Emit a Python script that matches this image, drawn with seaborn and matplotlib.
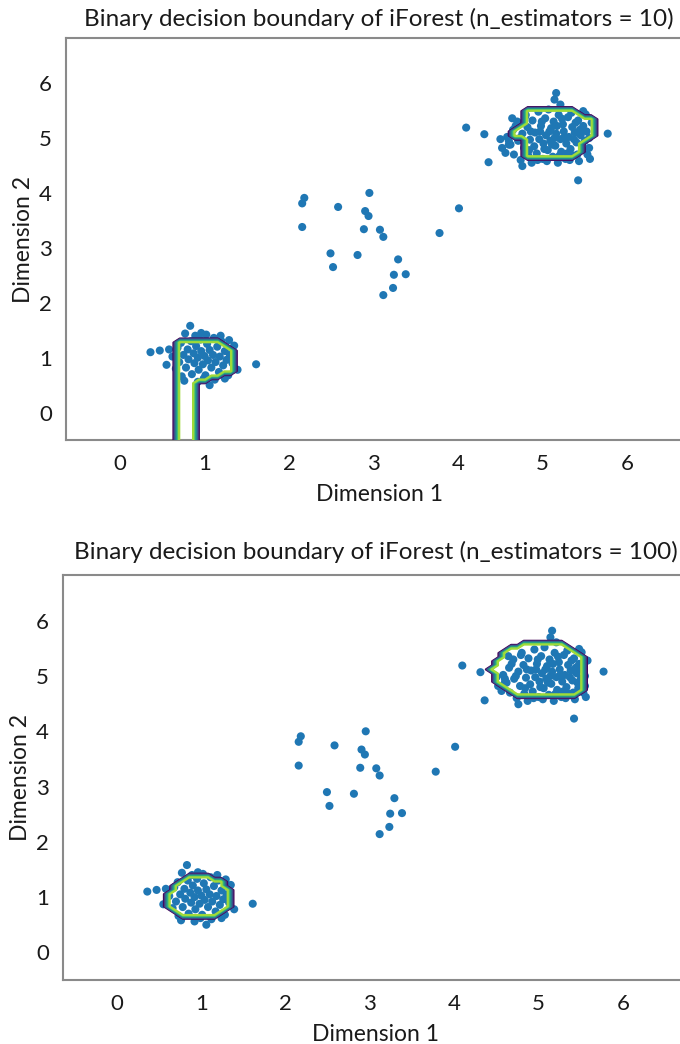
import numpy as np
import pandas as pd
import matplotlib
matplotlib.use("Agg")
import matplotlib.pyplot as plt
from matplotlib.path import Path
import seaborn as sns

# ---- data -------------------------------------------------------------
# scattered outliers between the two clusters
outlier_x = [2.18, 2.155, 2.95, 2.58, 2.90, 2.94, 2.155, 2.885, 3.075, 3.115,
             4.01, 3.78, 2.49, 2.52, 2.81, 3.29, 3.24, 3.38, 3.23, 3.115]
outlier_y = [3.91, 3.81, 4.00, 3.745, 3.67, 3.58, 3.38, 3.34, 3.33, 3.20,
             3.72, 3.27, 2.90, 2.65, 2.87, 2.79, 2.51, 2.52, 2.27, 2.14]

# cluster around (1, 1)
c1_x = [0.83, 0.77, 0.96, 0.36, 0.47, 0.55, 1.61, 1.29, 1.39, 1.06, 0.76, 0.92,
        0.62, 0.68, 0.70, 0.72, 0.75, 0.78, 0.80, 0.81, 0.84, 0.85, 0.87, 0.88,
        0.90, 0.92, 0.93, 0.95, 0.96, 0.98, 1.00, 1.01, 1.03, 1.04, 1.06, 1.08,
        1.10, 1.11, 1.13, 1.15, 1.17, 1.18, 1.20, 1.22, 1.24, 1.26, 1.28, 1.30,
        1.33, 1.35, 0.66, 0.73, 0.89, 1.02, 1.19, 0.58, 1.12, 0.99, 1.24]
c1_y = [1.58, 1.44, 1.45, 1.10, 1.13, 0.87, 0.88, 1.32, 0.78, 0.50, 0.58, 0.56,
        1.02, 1.18, 0.92, 1.27, 1.05, 0.82, 1.15, 0.97, 1.30, 0.70, 1.08, 0.90,
        1.21, 1.00, 0.78, 1.33, 1.12, 0.88, 1.03, 0.68, 1.25, 0.95, 1.14, 0.82,
        1.05, 1.36, 0.92, 1.20, 0.74, 1.02, 1.30, 0.86, 1.12, 0.96, 0.68, 1.05,
        0.90, 1.22, 0.80, 0.66, 1.40, 1.42, 1.40, 1.15, 0.60, 0.62, 0.62]

# cluster around (5, 5)
c2_x = [4.095, 4.31, 4.36, 5.42, 5.77, 5.16, 5.14, 5.48, 4.52, 4.56, 4.76,
        5.21, 5.51, 5.55, 4.50, 4.60,
        4.58, 4.62, 4.65, 4.66, 4.70, 4.71, 4.74, 4.76, 4.78, 4.80, 4.82, 4.83,
        4.85, 4.87, 4.88, 4.90, 4.91, 4.93, 4.95, 4.96, 4.98, 5.00, 5.01, 5.03,
        5.04, 5.06, 5.07, 5.09, 5.10, 5.12, 5.13, 5.15, 5.16, 5.18, 5.19, 5.21,
        5.22, 5.24, 5.25, 5.27, 5.28, 5.30, 5.31, 5.33, 5.35, 5.36, 5.38, 5.40,
        5.42, 5.43, 5.45, 5.47, 5.48, 5.50, 5.52, 5.53, 5.55, 4.68, 4.73, 4.86,
        4.94, 4.99, 5.02, 5.08, 5.11, 5.17, 5.20, 5.26, 5.29, 5.34, 5.37, 5.41,
        5.44, 4.60, 4.79, 4.84, 4.97, 5.05, 5.14, 5.23, 5.32, 5.39, 5.46, 4.64,
        5.58, 5.56]
c2_y = [5.19, 5.07, 4.56, 4.23, 5.08, 5.82, 5.70, 5.49, 4.82, 4.73, 4.49,
        5.61, 5.43, 4.82, 4.98, 4.88,
        5.02, 4.88, 5.15, 4.70, 5.30, 4.95, 4.60, 5.08, 4.82, 5.42, 5.20, 4.68,
        4.97, 4.55, 5.32, 4.85, 5.10, 4.72, 5.48, 4.98, 5.22, 4.62, 4.90, 5.36,
        5.05, 4.78, 5.52, 4.95, 5.18, 4.66, 5.30, 4.86, 5.08, 4.55, 5.42, 4.98,
        4.75, 5.25, 5.12, 4.62, 4.90, 5.38, 5.02, 4.80, 5.20, 4.68, 5.10, 4.92,
        5.32, 4.58, 5.05, 4.78, 5.22, 4.95, 5.12, 4.70, 5.00, 5.22, 5.00, 5.12,
        4.60, 5.30, 4.80, 5.12, 4.88, 5.22, 4.68, 5.02, 4.72, 5.46, 4.98, 4.70,
        5.15, 4.95, 5.38, 4.78, 5.12, 4.58, 5.00, 5.35, 4.60, 5.28, 4.88, 5.36,
        5.28, 4.62]

# inlier regions predicted by each forest (polygon outlines)
inlier_regions = {
    10: [
        [(0.66, -0.8), (0.66, 1.25), (0.72, 1.32), (1.12, 1.32), (1.22, 1.22),
         (1.33, 1.18), (1.36, 1.00), (1.36, 0.80), (1.28, 0.70), (1.10, 0.65),
         (0.95, 0.58), (0.90, 0.50), (0.90, -0.8)],
        [(4.78, 5.52), (5.36, 5.52), (5.50, 5.40), (5.60, 5.35), (5.60, 5.00),
         (5.47, 4.92), (5.43, 4.72), (5.38, 4.61), (4.80, 4.61), (4.76, 4.66),
         (4.76, 4.97), (4.59, 5.07), (4.74, 5.18)],
    ],
    100: [
        [(0.58, 1.00), (0.72, 1.30), (0.90, 1.37), (1.20, 1.34), (1.34, 1.10),
         (1.34, 0.85), (1.20, 0.68), (0.95, 0.63), (0.72, 0.70), (0.60, 0.85)],
        [(4.40, 5.10), (4.56, 5.40), (4.76, 5.57), (5.31, 5.59), (5.50, 5.40),
         (5.57, 5.28), (5.57, 4.80), (5.52, 4.73), (5.35, 4.61), (4.80, 4.61),
         (4.62, 4.72), (4.47, 4.98), (4.50, 5.05)],
    ],
}

titles = ["Binary decision boundary of iForest (n_estimators = 10)",
          "Binary decision boundary of iForest (n_estimators = 100)"]
estimators = [10, 100]
title_pads = [9, 12]

# ---- build frame ---------------------------------------------------------
df = pd.DataFrame({
    "x": outlier_x + c1_x + c2_x,
    "y": outlier_y + c1_y + c2_y,
})

sns.set_style("white")
plt.rcParams["font.family"] = ["Lato", "DejaVu Sans"]

fig = plt.figure(figsize=(6.8, 10.44), dpi=100)
axes = [fig.add_axes([0.097, 0.5785, 0.921, 0.385]),
        fig.add_axes([0.0926, 0.0613, 0.919, 0.3875])]

x_min, x_max = df["x"].min() - 1, df["x"].max() + 1
y_min, y_max = df["y"].min() - 1, df["y"].max() + 1
xx, yy = np.meshgrid(np.linspace(x_min, x_max, 100),
                     np.linspace(y_min, y_max, 100))
grid = np.column_stack([xx.ravel(), yy.ravel()])

for ax, n, title, tpad in zip(axes, estimators, titles, title_pads):
    z = np.zeros(len(grid))
    for poly in inlier_regions[n]:
        z[Path(poly).contains_points(grid)] = 1
    z = z.reshape(xx.shape)
    sns.scatterplot(data=df, x="x", y="y", ax=ax, s=34, color="#1f77b4",
                    edgecolor="none", zorder=2)
    ax.contour(xx, yy, z, cmap="viridis", linewidths=1.6, zorder=3)
    ax.set_xlim(x_min, x_max)
    ax.set_ylim(y_min, y_max)
    ax.set_xticks(range(0, 7))
    ax.set_yticks(range(0, 7))
    ax.set_title(title, fontsize=17.5, pad=tpad, color="#1a1a1a")
    ax.set_xlabel("Dimension 1", fontsize=16.5, color="#1a1a1a", labelpad=7)
    ax.set_ylabel("Dimension 2", fontsize=16.5, color="#1a1a1a", labelpad=4)
    ax.tick_params(axis="both", labelsize=16, colors="#1a1a1a", length=5,
                   width=1.2, color="#8a8a8a", pad=5)
    for sp in ax.spines.values():
        sp.set_color("#8a8a8a")
        sp.set_linewidth(1.5)

fig.savefig("out.png", dpi=100)
